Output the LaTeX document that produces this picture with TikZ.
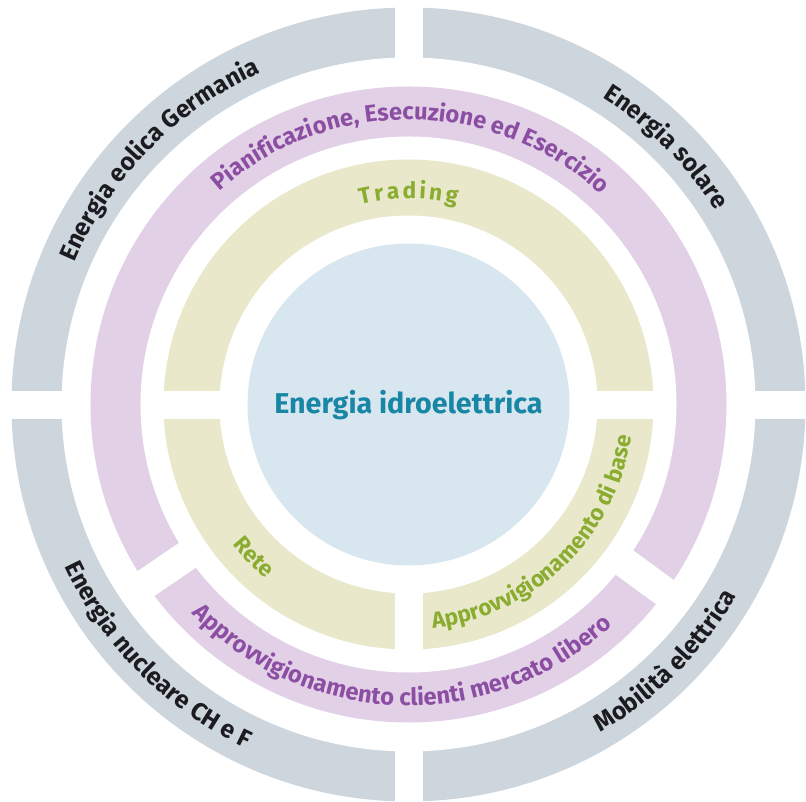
\documentclass[tikz,border=0pt]{standalone}
\usepackage{fontspec}
\setmainfont{Fira Sans}
\usetikzlibrary{decorations.text}
\definecolor{ringgray}{RGB}{205,213,221}
\definecolor{ringpurple}{RGB}{226,208,230}
\definecolor{ringolive}{RGB}{233,232,202}
\definecolor{corefill}{RGB}{215,230,239}
\definecolor{txtpurple}{RGB}{140,78,163}
\definecolor{txtolive}{RGB}{138,172,48}
\definecolor{txtteal}{RGB}{24,134,164}
\definecolor{txtdark}{RGB}{28,28,32}
% clockwise arc text (tops outward): centre angle, half span, radius, format, text
\newcommand\cwtext[5]{\path[decorate,decoration={text along path,text align=center,text={|#4|#5}}] ({#1+#2}:#3) arc[start angle={#1+#2},end angle={#1-#2},radius=#3];}
% counter-clockwise arc text (tops inward)
\newcommand\ccwtext[5]{\path[decorate,decoration={text along path,text align=center,text={|#4|#5}}] ({#1-#2}:#3) arc[start angle={#1-#2},end angle={#1+#2},radius=#3];}
\newcommand\fgray{\fontsize{18.5}{21}\selectfont\bfseries\color{txtdark}}
\newcommand\fpurple{\fontsize{17.8}{20}\selectfont\bfseries\color{txtpurple}}
\newcommand\folive{\fontsize{17}{20}\selectfont\bfseries\color{txtolive}}
\begin{document}
\begin{tikzpicture}[x=0.75pt,y=0.75pt,
  gapfill/.style={fill=white,draw=none},
  gapline/.style={draw=white,line width=22.5pt,line cap=butt}]
\useasboundingbox (-408.5,-397.5) rectangle (397.5,404.5);
% outer gray ring, four quadrants
\fill[ringgray] (0,0) circle (397);
\fill[white] (0,0) circle (347);
\fill[gapfill] (-420,-14.5) rectangle (420,13.5);
\fill[gapfill] (-13.5,-420) rectangle (14.5,420);
% purple ring, two pieces
\fill[ringpurple] (0,0) circle (318);
\fill[white] (0,0) circle (268);
\coordinate (pgA1) at (214.3:256);
\coordinate (pgA2) at (214.3:330);
\coordinate (pgB1) at (-36.2:256);
\coordinate (pgB2) at (-36.2:330);
\draw[gapline] (pgA1) -- (pgA2);
\draw[gapline] (pgB1) -- (pgB2);
% olive ring, three pieces
\fill[ringolive] (0,0) circle (245);
\fill[white] (0,0) circle (189);
\fill[gapfill] (-255,-14.5) rectangle (255,13.5);
\fill[gapfill] (-13.5,-255) rectangle (14.5,0);
% core
\node[circle,fill=corefill,minimum size=241.5pt,inner sep=0pt] (core) at (0,0) {};
\node[text=txtteal,font=\fontsize{21.5}{25}\selectfont\bfseries] (coretext) at (0,-1) {Energia idroelettrica};
% texts of the gray ring
\cwtext{135.5}{70}{363}{\fgray}{Energia eolica Germania}
\cwtext{45}{44}{363}{\fgray}{Energia solare}
\ccwtext{225}{70}{380}{\fgray}{Energia nucleare CH e F}
\ccwtext{-45}{44}{380}{\fgray}{Mobilità elettrica}
% texts of the purple ring
\cwtext{89.5}{85}{285}{\fpurple}{Pianificazione{,} Esecuzione ed Esercizio}
\ccwtext{268.3}{85}{301}{\fpurple}{Approvvigionamento clienti mercato libero}
% texts of the olive ring
\cwtext{90}{45}{206}{\folive}{T{\kern2.2pt}r{\kern2.2pt}a{\kern2.2pt}d{\kern2.2pt}i{\kern2.2pt}n{\kern2.2pt}g}
\ccwtext{224.6}{35}{225}{\folive}{Rete}
\ccwtext{-46}{60}{225}{\folive}{Approvvigionamento di base}
\end{tikzpicture}
\end{document}
